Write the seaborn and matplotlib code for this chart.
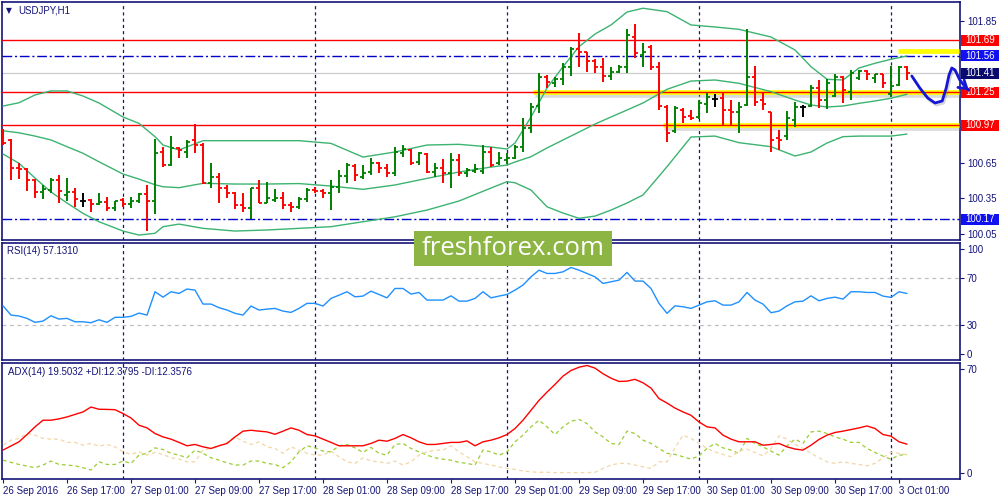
import numpy as np
import pandas as pd
import matplotlib
matplotlib.use('Agg')
import matplotlib.pyplot as plt
import matplotlib.patheffects as pe
from matplotlib.patches import Rectangle
from matplotlib.transforms import blended_transform_factory
import seaborn as sns

sns.set_style('white')
plt.rcParams['font.family'] = ['Liberation Sans', 'DejaVu Sans']

NAVY = '#14147a'
GREEN = '#008000'
RED = '#ff0000'

# USDJPY H1 bars, 26 Sep 2016 09:00 .. 3 Oct 02:00
opens = [100.928, 100.844, 100.606, 100.597, 100.504, 100.400, 100.419, 100.504, 100.377, 100.402,
         100.326, 100.334, 100.303, 100.320, 100.266, 100.334, 100.300, 100.326, 100.385, 100.328,
         100.742, 100.631, 100.776, 100.742, 100.844, 100.801, 100.479, 100.532, 100.433, 100.396,
         100.292, 100.269, 100.433, 100.311, 100.332, 100.351, 100.292, 100.275, 100.343, 100.419,
         100.413, 100.396, 100.445, 100.538, 100.623, 100.529, 100.572, 100.648, 100.603, 100.563,
         100.733, 100.759, 100.657, 100.725, 100.572, 100.606, 100.563, 100.674, 100.563, 100.583,
         100.580, 100.742, 100.648, 100.674, 100.691, 100.784, 100.945, 101.132, 101.378, 101.327,
         101.361, 101.463, 101.616, 101.591, 101.514, 101.466, 101.387, 101.423, 101.461, 101.720,
         101.565, 101.636, 101.466, 101.126, 100.920, 101.098, 101.047, 101.039, 101.149, 101.189,
         101.200, 101.098, 101.081, 101.141, 101.381, 101.183, 101.081, 100.858, 100.877, 101.013,
         101.126, 101.132, 101.285, 101.183, 101.217, 101.378, 101.251, 101.370, 101.432, 101.370,
         101.401, 101.234, 101.310, 101.463]
highs = [100.934, 100.849, 100.651, 100.602, 100.510, 100.462, 100.518, 100.546, 100.518, 100.434,
         100.391, 100.340, 100.391, 100.357, 100.328, 100.349, 100.357, 100.396, 100.462, 100.849,
         100.782, 100.877, 100.787, 100.844, 100.979, 100.815, 100.646, 100.566, 100.462, 100.405,
         100.396, 100.439, 100.504, 100.490, 100.425, 100.405, 100.320, 100.357, 100.434, 100.447,
         100.425, 100.504, 100.589, 100.646, 100.637, 100.631, 100.688, 100.659, 100.637, 100.787,
         100.801, 100.767, 100.744, 100.731, 100.651, 100.680, 100.731, 100.725, 100.603, 100.637,
         100.801, 100.787, 100.744, 100.731, 100.801, 101.028, 101.160, 101.415, 101.395, 101.381,
         101.495, 101.636, 101.749, 101.593, 101.529, 101.537, 101.466, 101.480, 101.783, 101.828,
         101.670, 101.650, 101.508, 101.141, 101.132, 101.113, 101.098, 101.183, 101.240, 101.234,
         101.240, 101.183, 101.169, 101.783, 101.472, 101.245, 101.084, 100.928, 101.090, 101.169,
         101.141, 101.310, 101.353, 101.361, 101.404, 101.387, 101.438, 101.438, 101.438, 101.408,
         101.404, 101.472, 101.472, 101.472]
lows = [100.801, 100.504, 100.510, 100.413, 100.354, 100.340, 100.396, 100.306, 100.328, 100.277,
        100.272, 100.235, 100.292, 100.243, 100.243, 100.277, 100.264, 100.311, 100.071, 100.213,
        100.617, 100.623, 100.693, 100.688, 100.731, 100.468, 100.433, 100.306, 100.349, 100.255,
        100.235, 100.170, 100.306, 100.309, 100.320, 100.255, 100.235, 100.255, 100.320, 100.396,
        100.349, 100.249, 100.396, 100.481, 100.498, 100.510, 100.546, 100.561, 100.527, 100.538,
        100.702, 100.631, 100.631, 100.566, 100.527, 100.481, 100.433, 100.538, 100.532, 100.561,
        100.555, 100.617, 100.631, 100.640, 100.682, 100.744, 100.900, 101.070, 101.282, 101.296,
        101.310, 101.387, 101.466, 101.423, 101.410, 101.339, 101.353, 101.415, 101.415, 101.537,
        101.466, 101.438, 101.098, 100.829, 100.900, 100.990, 101.013, 101.019, 101.070, 101.126,
        100.962, 100.971, 100.906, 101.132, 101.132, 101.098, 100.744, 100.759, 100.844, 100.957,
        101.036, 101.126, 101.113, 101.104, 101.206, 101.155, 101.183, 101.353, 101.353, 101.325,
        101.282, 101.211, 101.302, 101.353]
closes = [100.821, 100.603, 100.597, 100.504, 100.405, 100.425, 100.504, 100.411, 100.405, 100.340,
          100.326, 100.298, 100.320, 100.264, 100.326, 100.300, 100.326, 100.385, 100.328, 100.736,
          100.631, 100.773, 100.759, 100.829, 100.801, 100.476, 100.532, 100.433, 100.396, 100.292,
          100.269, 100.433, 100.311, 100.349, 100.351, 100.292, 100.272, 100.343, 100.419, 100.413,
          100.396, 100.445, 100.538, 100.631, 100.546, 100.563, 100.646, 100.603, 100.561, 100.744,
          100.767, 100.651, 100.733, 100.574, 100.603, 100.566, 100.674, 100.566, 100.589, 100.597,
          100.744, 100.631, 100.688, 100.691, 100.784, 100.943, 101.126, 101.376, 101.339, 101.361,
          101.466, 101.613, 101.591, 101.514, 101.466, 101.387, 101.423, 101.461, 101.735, 101.580,
          101.593, 101.466, 101.132, 100.900, 101.115, 101.039, 101.028, 101.155, 101.209, 101.189,
          101.098, 101.084, 101.126, 101.381, 101.169, 101.149, 100.844, 100.844, 101.030, 101.126,
          101.126, 101.285, 101.183, 101.325, 101.378, 101.268, 101.415, 101.432, 101.404, 101.401,
          101.325, 101.302, 101.463, 101.410]

# Bollinger bands read at selected bars
bb_bars = [0, 2, 4, 6, 8, 10, 12, 15, 17, 19, 20, 22, 25, 29, 33, 37, 41, 45, 49, 53, 57, 61, 63,
           64, 66, 68, 70, 72, 74, 76, 78, 80, 83, 86, 89, 92, 96, 99, 101, 103, 105, 107, 109, 111, 113]
bb_upper = [101.132, 101.160, 101.226, 101.260, 101.260, 101.217, 101.158, 101.039, 100.985, 100.872,
            100.801, 100.759, 100.838, 100.838, 100.838, 100.838, 100.815, 100.699, 100.742, 100.801,
            100.807, 100.784, 100.767, 100.818, 101.039, 101.285, 101.466, 101.636, 101.743, 101.820,
            101.930, 101.962, 101.933, 101.820, 101.803, 101.783, 101.718, 101.608, 101.466, 101.359,
            101.353, 101.455, 101.495, 101.529, 101.557]
bb_middle = [100.922, 100.905, 100.877, 100.844, 100.787, 100.731, 100.659, 100.555, 100.512, 100.464,
             100.447, 100.439, 100.476, 100.470, 100.470, 100.474, 100.453, 100.425, 100.462, 100.518,
             100.572, 100.614, 100.631, 100.657, 100.702, 100.776, 100.844, 100.911, 100.979, 101.039,
             101.098, 101.158, 101.274, 101.344, 101.353, 101.325, 101.254, 101.183, 101.141, 101.124,
             101.132, 101.155, 101.175, 101.198, 101.232]
bb_lower = [100.725, 100.646, 100.521, 100.402, 100.309, 100.221, 100.150, 100.071, 100.037, 100.052,
            100.108, 100.130, 100.094, 100.071, 100.080, 100.094, 100.108, 100.150, 100.192, 100.249,
            100.326, 100.436, 100.490, 100.481, 100.419, 100.277, 100.224, 100.179, 100.198, 100.249,
            100.309, 100.377, 100.617, 100.869, 100.877, 100.821, 100.787, 100.708, 100.742, 100.818,
            100.872, 100.877, 100.877, 100.877, 100.894]

rsi = [46.6, 38.7, 37.9, 35.9, 32.5, 33.6, 38.1, 35.3, 35.9, 33.0, 33.0, 32.2, 34.7, 32.5, 36.8, 36.8,
       37.6, 40.4, 38.7, 58.6, 54.0, 58.6, 57.2, 60.9, 60.0, 48.1, 48.1, 45.0, 43.0, 40.2, 38.7, 46.4,
       43.0, 43.8, 44.4, 42.1, 41.0, 44.4, 48.7, 48.7, 46.4, 52.9, 55.7, 58.6, 54.3, 54.9, 59.1, 56.3,
       53.4, 61.4, 61.4, 56.6, 58.0, 51.5, 51.5, 51.5, 55.1, 50.6, 50.6, 52.9, 58.6, 53.4, 54.9, 56.3,
       60.0, 64.3, 71.3, 77.0, 74.2, 74.2, 75.6, 79.3, 77.0, 74.2, 71.3, 65.7, 67.1, 68.5, 75.1, 67.7,
       67.7, 61.4, 48.7, 40.2, 46.6, 45.8, 44.4, 47.2, 50.0, 50.9, 47.2, 47.2, 50.0, 58.0, 51.5, 48.1,
       40.7, 42.1, 46.6, 50.0, 50.6, 55.1, 50.9, 52.9, 54.0, 52.3, 58.6, 58.6, 58.0, 58.0, 54.9, 53.8,
       58.6, 57.1]

adx = [15.5, 18.3, 21.1, 26.0, 31.2, 35.7, 35.7, 36.6, 37.9, 39.6, 41.3, 44.6, 43.1, 43.0, 42.8, 40.2,
       37.2, 32.3, 30.5, 26.7, 24.4, 22.9, 20.7, 18.4, 19.3, 17.7, 16.6, 18.4, 20.0, 24.4, 28.3, 28.9,
       28.3, 27.8, 26.2, 28.3, 30.5, 28.9, 26.0, 25.1, 22.9, 20.7, 18.4, 18.4, 18.4, 18.4, 20.0, 22.2,
       21.5, 23.4, 26.0, 23.8, 21.1, 19.3, 19.3, 20.0, 20.7, 20.7, 21.7, 18.4, 21.1, 22.2, 23.8, 26.0,
       30.1, 35.7, 42.4, 49.1, 54.7, 59.9, 65.5, 69.3, 71.5, 72.7, 70.9, 67.1, 64.1, 61.9, 62.1, 63.3,
       61.0, 57.4, 50.3, 47.3, 43.9, 41.3, 39.0, 34.5, 31.2, 30.5, 25.6, 22.9, 21.1, 21.1, 21.1, 18.8,
       19.3, 20.0, 17.7, 16.2, 15.5, 18.8, 22.7, 25.6, 27.4, 28.3, 29.4, 30.5, 31.8, 30.1, 26.0, 24.9,
       21.1, 19.5]
plus_di = [8.7, 7.2, 5.8, 4.7, 3.6, 5.4, 8.1, 5.8, 5.4, 4.9, 3.6, 2.0, 7.6, 5.8, 5.8, 8.1, 6.5, 12.1,
           13.3, 17.0, 15.9, 13.3, 12.1, 10.3, 15.5, 13.3, 10.3, 8.7, 6.9, 5.4, 5.4, 8.1, 8.1, 6.5, 5.8,
           3.6, 7.6, 14.3, 18.4, 17.0, 14.8, 14.3, 18.4, 19.3, 17.0, 13.9, 17.3, 13.3, 12.1, 19.3, 20.0,
           16.6, 14.3, 12.1, 10.3, 9.4, 8.7, 7.2, 6.5, 5.4, 15.5, 14.3, 12.1, 14.3, 21.1, 25.6, 31.2,
           35.7, 31.2, 26.0, 31.2, 35.0, 36.3, 33.4, 27.8, 24.4, 20.0, 19.3, 28.3, 26.7, 22.2, 20.0, 16.6,
           13.3, 12.6, 11.0, 9.4, 11.6, 16.6, 20.0, 17.0, 15.5, 13.3, 23.4, 20.0, 17.7, 14.8, 12.1, 18.4,
           22.9, 20.0, 27.8, 28.3, 26.7, 24.4, 22.9, 20.7, 20.7, 16.6, 13.9, 11.4, 9.4, 12.1, 12.4]
minus_di = [18.8, 22.2, 23.4, 26.7, 25.6, 23.4, 22.9, 22.9, 20.7, 20.7, 18.8, 20.0, 18.2, 19.3, 17.7,
            14.3, 12.6, 14.3, 12.1, 13.9, 12.6, 10.3, 9.4, 7.6, 7.6, 15.5, 16.6, 18.4, 20.7, 24.4, 21.5,
            19.3, 21.1, 17.7, 16.6, 13.3, 17.7, 15.5, 13.3, 12.1, 12.1, 14.8, 11.0, 7.6, 6.5, 10.3, 8.1,
            7.6, 6.5, 8.1, 5.4, 7.6, 12.1, 14.3, 15.5, 15.5, 18.4, 14.3, 11.0, 7.6, 6.5, 5.4, 4.2, 3.1,
            2.5, 1.4, 0.8, 0.5, 0.5, 0.3, 0.3, 0.3, 0.2, 0.3, 0.5, 3.1, 5.4, 6.5, 6.5, 5.4, 4.2, 3.1, 7.6,
            7.6, 17.0, 25.6, 23.4, 20.0, 16.6, 14.3, 12.6, 11.0, 14.8, 16.2, 13.9, 11.6, 16.6, 25.1, 22.9,
            19.3, 16.6, 13.3, 10.3, 7.6, 6.5, 7.6, 6.5, 5.8, 4.9, 6.5, 10.3, 13.9, 13.3, 12.4]

x_labels = ['26 Sep 2016', '26 Sep 17:00', '27 Sep 01:00', '27 Sep 09:00', '27 Sep 17:00',
            '28 Sep 01:00', '28 Sep 09:00', '28 Sep 17:00', '29 Sep 01:00', '29 Sep 09:00',
            '29 Sep 17:00', '30 Sep 01:00', '30 Sep 09:00', '30 Sep 17:00', '3 Oct 01:00']
day_start_bars = [15, 39, 63, 87, 111]
price_ticks = [101.85, 101.55, 101.25, 100.95, 100.65, 100.35, 100.05]

# drawn levels and analyst markup
resistance_levels = [101.69, 101.25, 100.97]
pivot_levels = [101.56, 100.17]
bid_price = 101.41
zone_prices = [101.25, 100.97, 101.60]
zone_start_bars = [66.3, 82.5, 111.9]
forecast_bars = [113.6, 114.6, 115.6, 116.5, 117.4, 117.9, 118.25, 118.6, 119.0, 119.6, 120.4, 121.0]
forecast_prices = [101.387, 101.285, 101.200, 101.158, 101.175, 101.285, 101.395, 101.455, 101.438,
                   101.353, 101.285, 101.251]

# labelled price boxes on the right scale
box_prices = [101.69, 101.56, 101.41, 101.25, 100.97, 100.17]
box_kinds = ['level', 'pivot', 'bid', 'level', 'level', 'pivot']

fig = plt.figure(figsize=(10, 5), dpi=100)


def px_axes(left, top, right, bottom):
    return fig.add_axes([left / 1000, 1 - bottom / 500, (right - left) / 1000, (bottom - top) / 500])


ax_p = px_axes(2, 2, 960, 240)
ax_r = px_axes(2, 242.5, 960, 360)
ax_a = px_axes(2, 362.5, 960, 479)

for ax in (ax_p, ax_r, ax_a):
    ax.set_xlim(-0.125, 119.625)
    for s in ax.spines.values():
        s.set_color(NAVY)
        s.set_linewidth(1.2)
    ax.yaxis.tick_right()
    ax.tick_params(axis='y', direction='out', length=3, width=0.8, color=NAVY,
                   labelsize=7, labelcolor=NAVY, pad=2, left=False, right=True)
    ax.tick_params(axis='x', bottom=False, labelbottom=False)
    for b in day_start_bars:
        ax.axvline(b, color=NAVY, lw=0.9, ls=(0, (2.5, 2.5)), zorder=1)

# ---- price panel
idx = np.arange(len(opens))
o, h, l, c = map(np.array, (opens, highs, lows, closes))
bar_colors = np.where(c > o, GREEN, np.where(c < o, RED, 'black'))

ax_p.axhline(bid_price, color='#cccccc', lw=0.9, zorder=1)
for lv in pivot_levels:
    ax_p.axhline(lv, color='#0000c8', lw=1.0, ls=(0, (7, 2, 1.5, 2)), zorder=2)

shadow = [pe.SimpleLineShadow(offset=(1, -1.8), shadow_color='#888888', alpha=0.3), pe.Normal()]
for zp, zs in zip(zone_prices, zone_start_bars):
    ax_p.plot([zs, 119.5], [zp, zp], color='#ffff00', lw=3.4, solid_capstyle='butt',
              path_effects=shadow if zp in resistance_levels else None, zorder=3)
for lv in resistance_levels:
    ax_p.axhline(lv, color=RED, lw=1.0, zorder=4)

bb = pd.DataFrame({'bar': bb_bars, 'upper': bb_upper, 'middle': bb_middle, 'lower': bb_lower})
for col in ('upper', 'middle', 'lower'):
    sns.lineplot(data=bb, x='bar', y=col, ax=ax_p, color='#3cb371', lw=1.0, zorder=5)

ax_p.vlines(idx, l, h, colors=bar_colors, lw=1.4, zorder=6)
ax_p.hlines(o, idx - 0.42, idx, colors=bar_colors, lw=1.3, zorder=6)
ax_p.hlines(c, idx, idx + 0.42, colors=bar_colors, lw=1.3, zorder=6)

ax_p.set_ylim(99.995, 102.015)
ax_p.set_yticks(price_ticks)
ax_p.set_yticklabels(['' if any(abs(t - bp) < 0.03 for bp in box_prices) else f'{t:.2f}'
                      for t in price_ticks])
ax_p.set_xlabel('')
ax_p.set_ylabel('')

trans = blended_transform_factory(ax_p.transAxes, ax_p.transData)
box_color = {'level': RED, 'pivot': '#1010f0', 'bid': '#0a0a6e'}
for bp, kind in zip(box_prices, box_kinds):
    ax_p.add_patch(Rectangle((1.001, bp - 0.047), 0.0395, 0.094, transform=trans,
                             facecolor=box_color[kind], edgecolor='none', clip_on=False, zorder=20))
    ax_p.text(1.006, bp, f'{bp:.2f}', transform=trans, color='white', fontsize=7,
              va='center', ha='left', clip_on=False, zorder=21)

# hand-drawn forecast, drawn over the price boxes
fc_shadow = [pe.SimpleLineShadow(offset=(1, -1.5), shadow_color='#777777', alpha=0.3), pe.Normal()]
ax_p.plot(forecast_bars[:-1], forecast_prices[:-1], color='#1616d6', lw=2.0, clip_on=False,
          solid_capstyle='round', solid_joinstyle='round', path_effects=fc_shadow, zorder=25)
ax_p.annotate('', xy=(forecast_bars[-1], forecast_prices[-1]),
              xytext=(forecast_bars[-2], forecast_prices[-2]),
              arrowprops=dict(arrowstyle='->,head_length=0.55,head_width=0.35', color='#1616d6', lw=2.0),
              annotation_clip=False, zorder=25)

# ---- RSI panel
sns.lineplot(x=idx, y=rsi, ax=ax_r, color='#1e90ff', lw=1.0, zorder=5)
for lv in (70, 30):
    ax_r.axhline(lv, color='#c0c0c0', lw=0.9, ls=(0, (3, 3)), zorder=2)
ax_r.set_ylim(0.4, 100.6)
ax_r.set_yticks([5.5, 30, 70, 94.9])
ax_r.set_yticklabels(['0', '30', '70', '100'])
ax_r.set_xlabel('')
ax_r.set_ylabel('')

# ---- ADX panel
sns.lineplot(x=idx, y=plus_di, ax=ax_a, color='#9acd32', lw=0.9, ls=(0, (3, 2.5)), zorder=4)
sns.lineplot(x=idx, y=minus_di, ax=ax_a, color='#f3d6a6', lw=0.9, ls=(0, (3, 2.5)), zorder=4)
sns.lineplot(x=idx, y=adx, ax=ax_a, color=RED, lw=1.0, zorder=5)
ax_a.set_ylim(-4.04, 74.7)
ax_a.set_yticks([0, 70])
ax_a.set_yticklabels(['0', '70'])
ax_a.set_xlabel('')
ax_a.set_ylabel('')
ax_a.set_xticks(np.arange(len(x_labels)) * 8)
ax_a.set_xticklabels(x_labels, ha='left')
ax_a.tick_params(axis='x', bottom=True, labelbottom=True, direction='out', length=3, width=0.8,
                 color=NAVY, labelsize=7, labelcolor=NAVY, pad=2)

# ---- captions
fig.text(0.0085, 1 - 10.5 / 500, '\u25bc', fontsize=5.5, color=NAVY, va='center', ha='center',
         family=['DejaVu Sans'])
fig.text(0.018, 1 - 10.5 / 500, 'USDJPY,H1', fontsize=7, color=NAVY, va='center')
fig.text(0.007, 1 - 251 / 500, 'RSI(14) 57.1310', fontsize=7, color=NAVY, va='center')
fig.text(0.008, 1 - 372 / 500, 'ADX(14) 19.5032 +DI:12.3795 -DI:12.3576', fontsize=7, color=NAVY,
         va='center')

# watermark
fig.patches.append(Rectangle((0.414, 1 - 266 / 500), 0.198, 35 / 500, transform=fig.transFigure,
                             facecolor='#8db543', edgecolor='none', zorder=30))
fig.text(0.513, 1 - 248.5 / 500, 'freshforex.com', fontsize=18.5, color='white', ha='center',
         va='center', family=['Open Sans', 'DejaVu Sans'], zorder=31)

fig.savefig('out.png', dpi=100)
